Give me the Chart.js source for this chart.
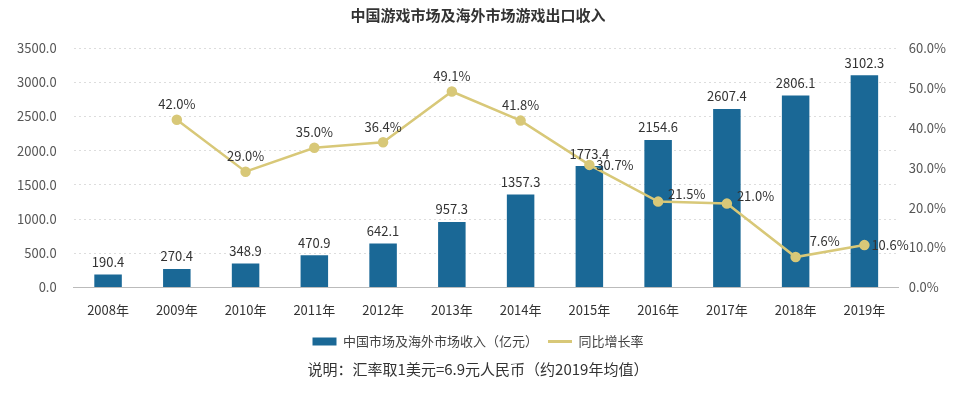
<!DOCTYPE html>
<html>
<head>
<meta charset="utf-8">
<script src="https://cdn.jsdelivr.net/npm/chart.js@4/dist/chart.umd.min.js"></script>
<style>
    html, body { margin: 0; padding: 0; background: #fff; }
    #wrap { width: 960px; height: 395px; position: relative; }
</style>
</head>
<body>
<div id="wrap"><canvas id="chart"></canvas></div>
<script>
// chart data
const years = ['2008年', '2009年', '2010年', '2011年', '2012年', '2013年', '2014年', '2015年', '2016年', '2017年', '2018年', '2019年'];
const revenue = [190.4, 270.4, 348.9, 470.9, 642.1, 957.3, 1357.3, 1773.4, 2154.6, 2607.4, 2806.1, 3102.3];
const growth = [null, 42.0, 29.0, 35.0, 36.4, 49.1, 41.8, 30.7, 21.5, 21.0, 7.6, 10.6];

const BAR_COLOR = '#1a6896';
const LINE_COLOR = '#d8c878';
const FONT = '"Noto Sans CJK SC", "Noto Sans", sans-serif';

// draws the value labels on top of bars and line points
const valueLabels = {
    id: 'valueLabels',
    afterDatasetsDraw(chart) {
        const ctx = chart.ctx;
        ctx.save();
        ctx.font = '13px ' + FONT;
        ctx.fillStyle = '#333';

        const bars = chart.getDatasetMeta(0).data;
        ctx.textAlign = 'center';
        ctx.textBaseline = 'bottom';
        bars.forEach((bar, i) => {
            ctx.fillText(revenue[i].toFixed(1), bar.x, bar.y - 6);
        });

        const pts = chart.getDatasetMeta(1).data;
        pts.forEach((pt, i) => {
            if (growth[i] === null) return;
            const txt = growth[i].toFixed(1) + '%';
            // a few labels sit to the right of the point, like the original
            if (i === 7 || i === 11) {
                ctx.textAlign = 'left';
                ctx.textBaseline = 'middle';
                ctx.fillText(txt, pt.x + 7, pt.y);
            } else if (i === 8 || i === 9) {
                ctx.textAlign = 'left';
                ctx.textBaseline = 'middle';
                ctx.fillText(txt, pt.x + 10, pt.y - 8);
            } else if (i === 10) {
                ctx.textAlign = 'left';
                ctx.textBaseline = 'middle';
                ctx.fillText(txt, pt.x + 14, pt.y - 16);
            } else {
                ctx.textAlign = 'center';
                ctx.textBaseline = 'bottom';
                ctx.fillText(txt, pt.x, pt.y - 9);
            }
        });
        ctx.restore();
    }
};

new Chart(document.getElementById('chart'), {
    type: 'bar',
    data: {
        labels: years,
        datasets: [{
            type: 'bar',
            label: '中国市场及海外市场收入（亿元）',
            data: revenue,
            backgroundColor: BAR_COLOR,
            barPercentage: 0.8,
            categoryPercentage: 0.5,
            yAxisID: 'y',
            order: 2
        }, {
            type: 'line',
            label: '同比增长率',
            data: growth,
            borderColor: LINE_COLOR,
            backgroundColor: LINE_COLOR,
            borderWidth: 2.5,
            pointRadius: 4,
            pointBackgroundColor: LINE_COLOR,
            pointBorderColor: LINE_COLOR,
            tension: 0,
            yAxisID: 'y1',
            order: 1
        }]
    },
    options: {
        responsive: true,
        maintainAspectRatio: false,
        animation: false,
        layout: { padding: { left: 0, right: 4, top: 4, bottom: 17 } },
        plugins: {
            title: {
                display: true,
                text: '中国游戏市场及海外市场游戏出口收入',
                color: '#333',
                font: { family: FONT, size: 15, weight: 'bold' },
                padding: { top: 2, bottom: 24 }
            },
            subtitle: {
                display: true,
                position: 'bottom',
                text: '说明：汇率取1美元=6.9元人民币（约2019年均值）',
                color: '#333',
                font: { family: FONT, size: 15 },
                padding: { top: 2, bottom: 0 }
            },
            legend: {
                position: 'bottom',
                labels: {
                    color: '#444',
                    font: { family: FONT, size: 13 },
                    usePointStyle: true,
                    pointStyleWidth: 24,
                    boxHeight: 8,
                    padding: 10,
                    generateLabels(chart) {
                        const items = Chart.defaults.plugins.legend.labels.generateLabels(chart);
                        items.forEach(item => {
                            if (item.datasetIndex === 0) {
                                item.pointStyle = 'rect';
                            } else {
                                item.pointStyle = 'line';
                                item.lineWidth = 3;
                                item.strokeStyle = LINE_COLOR;
                            }
                        });
                        return items.sort((a, b) => a.datasetIndex - b.datasetIndex);
                    }
                }
            },
            tooltip: { enabled: false }
        },
        scales: {
            x: {
                grid: { display: false },
                border: { color: '#bbb' },
                ticks: { color: '#333', font: { family: FONT, size: 13 }, padding: 7 }
            },
            y: {
                position: 'left',
                min: 0,
                max: 3500,
                ticks: {
                    stepSize: 500,
                    color: '#555',
                    font: { family: FONT, size: 13 },
                    padding: 17,
                    callback: v => v.toFixed(1)
                },
                grid: { color: '#ddd', drawTicks: false },
                border: { display: false, dash: [2, 3] }
            },
            y1: {
                position: 'right',
                min: 0,
                max: 60,
                ticks: {
                    stepSize: 10,
                    color: '#555',
                    font: { family: FONT, size: 13 },
                    padding: 10,
                    callback: v => v.toFixed(1) + '%'
                },
                grid: { display: false, drawTicks: false },
                border: { display: false }
            }
        }
    },
    plugins: [valueLabels]
});
</script>
</body>
</html>
